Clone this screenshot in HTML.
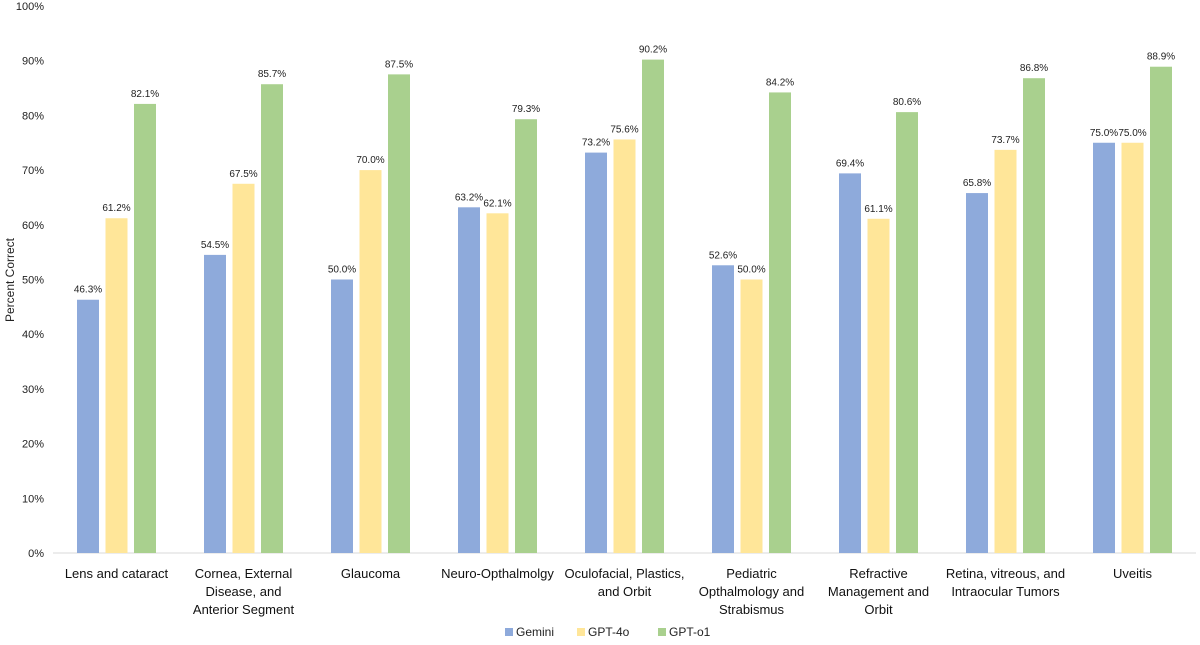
<!DOCTYPE html>
<html><head><meta charset="utf-8"><style>
body{margin:0;background:#fff;font-family:"Liberation Sans",sans-serif}
svg{display:block}
</style></head><body>
<svg id="c" width="1200" height="645"></svg>
<script>
const categories=[["Lens and cataract"],["Cornea, External","Disease, and","Anterior Segment"],["Glaucoma"],["Neuro-Opthalmolgy"],["Oculofacial, Plastics,","and Orbit"],["Pediatric","Opthalmology and","Strabismus"],["Refractive","Management and","Orbit"],["Retina, vitreous, and","Intraocular Tumors"],["Uveitis"]];
const gemini=[46.3,54.5,50.0,63.2,73.2,52.6,69.4,65.8,75.0];
const gpt4o=[61.2,67.5,70.0,62.1,75.6,50.0,61.1,73.7,75.0];
const gpto1=[82.1,85.7,87.5,79.3,90.2,84.2,80.6,86.8,88.9];
const seriesNames=["Gemini","GPT-4o","GPT-o1"];
const colors=["#8eaadb","#ffe699","#a9d08e"];
const yTicks=[0,10,20,30,40,50,60,70,80,90,100];

const NS="http://www.w3.org/2000/svg";
const svg=document.getElementById('c');
const x0=53,plotW=1143,y0=553,y100=6;
const yS=v=>y0-(v/100)*(y0-y100);
const bw=plotW/categories.length;
function mk(t,a,txt){const e=document.createElementNS(NS,t);for(const k in a)e.setAttribute(k,a[k]);if(txt!=null)e.textContent=txt;svg.appendChild(e);return e;}
yTicks.forEach(t=>{
 const e=mk('text',{x:44,y:yS(t)+4,'text-anchor':'end','font-size':11,fill:'#222'},t+'%');
 
 
});
const ax=mk('line',{x1:x0,x2:x0+plotW,y1:y0,y2:y0,stroke:'#d9d9d9','stroke-width':1});


const yt=mk('text',{x:14,y:280,'text-anchor':'middle','font-size':12,fill:'#222',transform:'rotate(-90 14 280)'},'Percent Correct');


const series=[gemini,gpt4o,gpto1];
categories.forEach((cat,i)=>{
 const cx=x0+bw*(i+0.5);
 series.forEach((s,j)=>{
  const bx=cx-11+(j-1)*28.5;
  const r=mk('rect',{x:bx,y:yS(s[i]),width:22,height:y0-yS(s[i]),fill:colors[j]});
  
  
  const l=mk('text',{x:bx+11,y:yS(s[i])-7,'text-anchor':'middle','font-size':10,fill:'#222'},s[i].toFixed(1)+'%');
  
  
 });
 cat.forEach((line,k)=>{
  const t=mk('text',{x:cx,y:578+k*18,'text-anchor':'middle','font-size':13,fill:'#111'},line);
  
  
 });
});
const lx=[505,577,658];
seriesNames.forEach((n,j)=>{
 const r=mk('rect',{x:lx[j],y:628,width:8,height:8,fill:colors[j]});
 
 
 const t=mk('text',{x:lx[j]+11,y:636,'font-size':12,fill:'#222'},n);
 
 
});
</script>
</body></html>
